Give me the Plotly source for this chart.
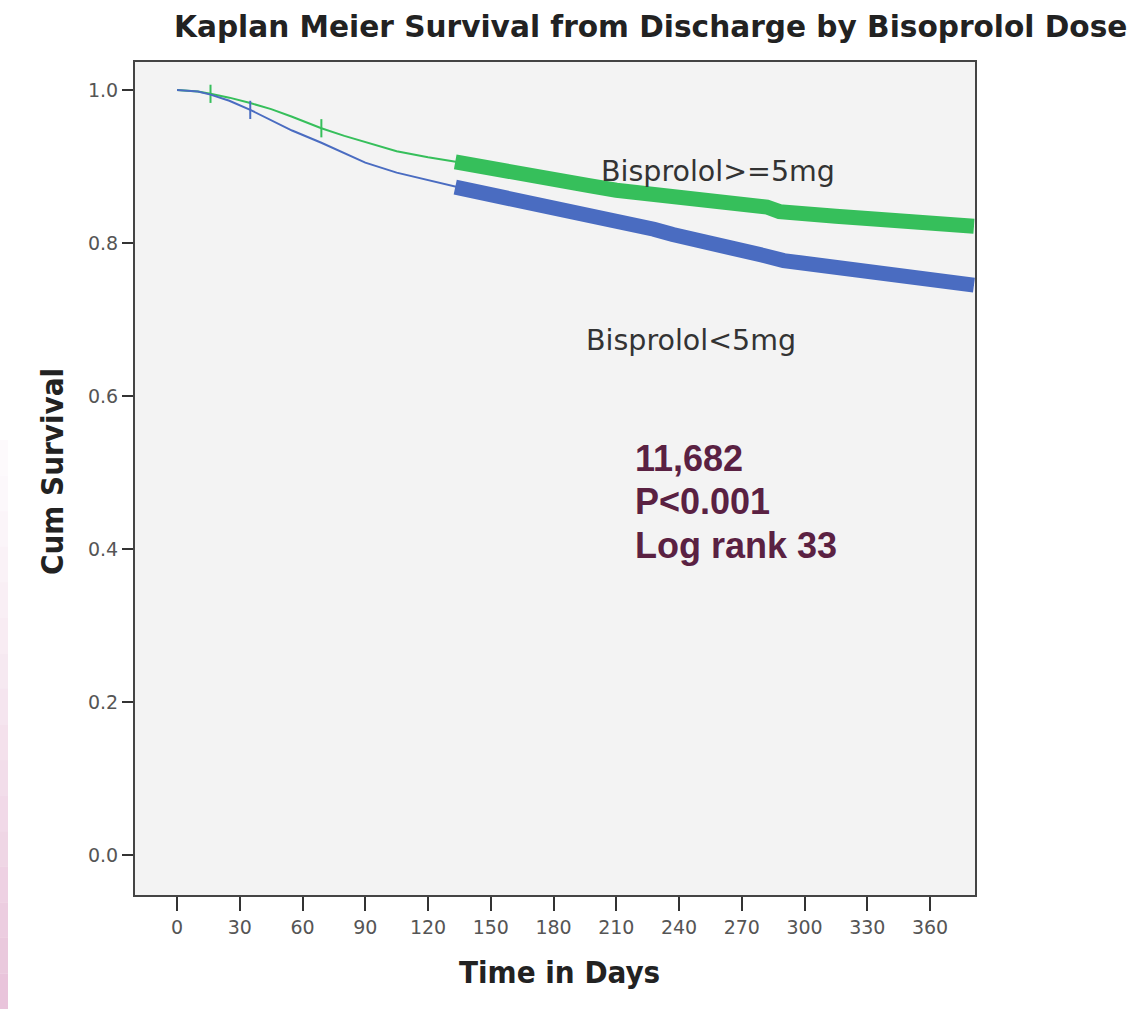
import plotly.graph_objects as go

# Kaplan-Meier survival estimates read at selected days
days_hi = [0, 5, 10, 16, 25, 35, 45, 55, 69, 80, 90, 105, 120, 133, 145, 158, 173, 185,
           197, 210, 225, 237, 255, 270, 282, 288, 300, 315, 330, 345, 360, 365, 381]
surv_hi = [1.000, 0.999, 0.998, 0.995, 0.990, 0.983, 0.975, 0.965, 0.950, 0.940, 0.932,
           0.920, 0.912, 0.906, 0.901, 0.896, 0.887, 0.881, 0.875, 0.869, 0.865, 0.861,
           0.856, 0.852, 0.847, 0.841, 0.837, 0.835, 0.832, 0.829, 0.826, 0.823, 0.822]

days_lo = [0, 10, 16, 25, 35, 45, 55, 69, 80, 90, 105, 120, 133, 145, 158, 173, 185, 197,
           210, 220, 228, 237, 250, 266, 280, 290, 305, 330, 345, 361, 381]
surv_lo = [1.000, 0.998, 0.994, 0.986, 0.974, 0.961, 0.947, 0.931, 0.917, 0.905, 0.892,
           0.882, 0.873, 0.866, 0.859, 0.852, 0.845, 0.838, 0.832, 0.826, 0.818, 0.811,
           0.804, 0.794, 0.784, 0.777, 0.772, 0.766, 0.760, 0.752, 0.745]

# isolated censored observations before the dense censoring period
cens_hi_days = [16, 69]
cens_hi_surv = [0.995, 0.950]
cens_lo_days = [35]
cens_lo_surv = [0.974]

# day from which censoring is continuous (drawn as a band of tick marks)
dense_from = 133

x_ticks = list(range(0, 361, 30))
y_ticks = [0.0, 0.2, 0.4, 0.6, 0.8, 1.0]

stats_lines = ["11,682", "P&lt;0.001", "Log rank 33"]

GREEN = "#36BF5B"
BLUE = "#4A6CC1"
TXT = "#555555"
DARK = "#222222"

# plot area in pixels
L, R, T, B = 135, 975, 62, 895
W, H = R - L, B - T


def px(x):
    return (x - L) / W


def py(y):
    return (B - y) / H


fig = go.Figure()


def add_group(days, surv, cdays, csurv, color, name):
    fig.add_trace(go.Scatter(x=days, y=surv, mode="lines", name=name,
                             line=dict(color=color, width=2), hoverinfo="skip"))
    bd = [d for d in days if d >= dense_from]
    bs = [s for d, s in zip(days, surv) if d >= dense_from]
    fig.add_trace(go.Scatter(x=bd, y=bs, mode="lines", name=name + " censored",
                             line=dict(color=color, width=15), hoverinfo="skip"))
    fig.add_trace(go.Scatter(x=cdays, y=csurv, mode="markers", name=name + " censored",
                             marker=dict(symbol="line-ns", size=13,
                                         line=dict(color=color, width=2)),
                             hoverinfo="skip"))


add_group(days_hi, surv_hi, cens_hi_days, cens_hi_surv, GREEN, "Bisprolol>=5mg")
add_group(days_lo, surv_lo, cens_lo_days, cens_lo_surv, BLUE, "Bisprolol<5mg")

# soft pink edge on the left of the slide, fading upwards
shapes = []
n = 16
top_px, bot_px = 440, 1009
for i in range(n):
    y_top = top_px + (bot_px - top_px) * i / n
    y_bot = top_px + (bot_px - top_px) * (i + 1) / n
    shapes.append(dict(type="rect", xref="paper", yref="paper",
                       x0=px(0), x1=px(8), y0=py(y_bot), y1=py(y_top),
                       fillcolor="#DCA3C6", opacity=0.04 + 0.6 * ((i + 1) / n) ** 1.3,
                       line=dict(width=0), layer="below"))

annotations = [
    dict(text="<b>Kaplan Meier Survival from Discharge by Bisoprolol Dose</b>",
         xref="paper", yref="paper", x=px(650), y=py(27),
         xanchor="center", yanchor="middle", showarrow=False,
         font=dict(family="DejaVu Sans", size=29.6, color=DARK)),
    dict(text="<b>Time in Days</b>", xref="paper", yref="paper",
         x=px(559), y=py(972), xanchor="center", yanchor="middle", showarrow=False,
         font=dict(family="DejaVu Sans Condensed", size=31, color=DARK)),
    dict(text="<b>Cum Survival</b>", xref="paper", yref="paper", textangle=-90,
         x=px(52), y=py(472), xanchor="center", yanchor="middle", showarrow=False,
         font=dict(family="DejaVu Sans Condensed", size=31, color=DARK)),
    dict(text="Bisprolol&gt;=5mg", x=258.5, y=0.893, xanchor="center",
         yanchor="middle", showarrow=False,
         font=dict(family="DejaVu Sans", size=28.5, color="#333")),
    dict(text="Bisprolol&lt;5mg", x=245.8, y=0.673, xanchor="center",
         yanchor="middle", showarrow=False,
         font=dict(family="DejaVu Sans", size=28.5, color="#333")),
]
for line, ypx in zip(stats_lines, [458, 501, 545]):
    annotations.append(dict(text="<b>" + line + "</b>", xref="x", yref="paper",
                            x=217.8, y=py(ypx), xanchor="left", yanchor="middle",
                            showarrow=False,
                            font=dict(family="Liberation Sans", size=36,
                                      color="#5A2142")))

fig.update_layout(
    width=1138, height=1009,
    margin=dict(l=L, r=1138 - R, t=T, b=1009 - B),
    plot_bgcolor="#F3F3F3", paper_bgcolor="white",
    showlegend=False,
    shapes=shapes,
    font=dict(family="DejaVu Sans", color=TXT),
    xaxis=dict(range=[-20.1, 381.5], tickvals=x_ticks, ticks="outside", ticklen=14,
               tickwidth=2, tickcolor="#333", showgrid=False, zeroline=False,
               showline=True, linecolor="#444", linewidth=2, mirror=True,
               tickfont=dict(family="DejaVu Sans", size=19, color=TXT)),
    yaxis=dict(range=[-0.0523, 1.0366], tickvals=y_ticks, tickformat=".1f",
               ticks="outside", ticklen=11, tickwidth=2, tickcolor="#333",
               showgrid=False, zeroline=False, showline=True, linecolor="#444",
               linewidth=2, mirror=True,
               tickfont=dict(family="DejaVu Sans", size=19, color=TXT)),
    annotations=annotations,
)

fig.write_html("out.html")
